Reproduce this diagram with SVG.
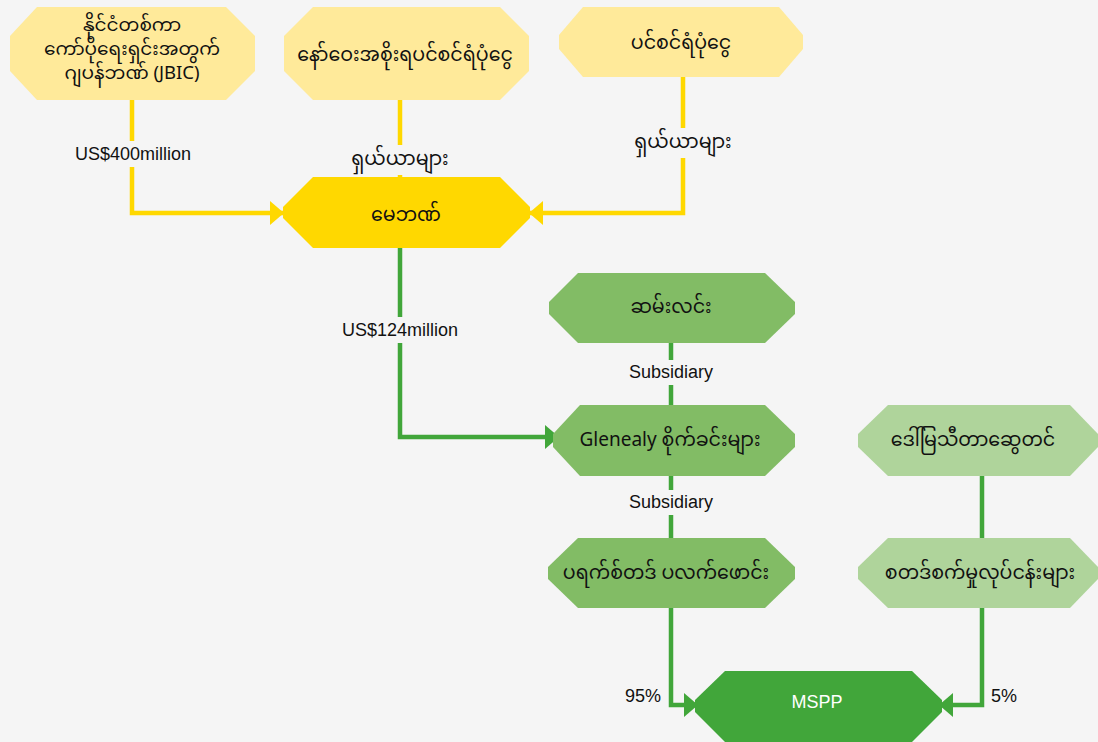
<svg xmlns="http://www.w3.org/2000/svg" width="1098" height="742" viewBox="0 0 1098 742">
<defs>
<style>
.lbl{font-family:"Liberation Sans",Arial,sans-serif;font-size:18px;fill:#111;text-anchor:middle;dominant-baseline:central}
.my{font-family:"Noto Sans Myanmar","Padauk","Myanmar Text","Noto Sans",sans-serif;font-size:19px;fill:#111;text-anchor:middle;dominant-baseline:central}
.ly{fill:#FFEA9A}
.gd{fill:#FFD800}
.mg{fill:#82BC65}
.lg{fill:#AFD49B}
.dg{fill:#41A63A}
.cy{fill:none;stroke:#FFD800;stroke-width:4.5}
.cg{fill:none;stroke:#41A63A;stroke-width:4.5}
</style>
<marker id="ay" viewBox="0 0 14 24" refX="13" refY="12" markerWidth="14" markerHeight="24" markerUnits="userSpaceOnUse" orient="auto"><path d="M0,0 L14,12 L0,24 Z" fill="#FFD800"/></marker>
<marker id="ag" viewBox="0 0 14 24" refX="13" refY="12" markerWidth="14" markerHeight="24" markerUnits="userSpaceOnUse" orient="auto"><path d="M0,0 L14,12 L0,24 Z" fill="#41A63A"/></marker>
</defs>
<rect width="1098" height="742" fill="#F5F5F5"/>
<g id="connectors">
<path class="cy" d="M132,100 V213 H283" marker-end="url(#ay)"/>
<path class="cy" d="M400,100 V177"/>
<path class="cy" d="M683,77 V213 H530" marker-end="url(#ay)"/>
<path class="cg" d="M400,248 V437 H558" marker-end="url(#ag)"/>
<path class="cg" d="M671,343 V405"/>
<path class="cg" d="M671,476 V538"/>
<path class="cg" d="M671,608 V705 H697" marker-end="url(#ag)"/>
<path class="cg" d="M982,476 V538"/>
<path class="cg" d="M982,608 V705 H940" marker-end="url(#ag)"/>
<rect x="72" y="141" width="122" height="26" fill="#F5F5F5"/>
<text class="lbl" x="133" y="154">US$400million</text>
<rect x="345" y="145" width="110" height="30" fill="#F5F5F5"/>
<text class="my" x="400" y="160">ရှယ်ယာများ</text>
<rect x="628" y="128" width="110" height="30" fill="#F5F5F5"/>
<text class="my" x="683" y="143">ရှယ်ယာများ</text>
<rect x="339" y="317" width="122" height="26" fill="#F5F5F5"/>
<text class="lbl" x="400" y="330">US$124million</text>
<rect x="626" y="360" width="90" height="25" fill="#F5F5F5"/>
<text class="lbl" x="671" y="372">Subsidiary</text>
<rect x="626" y="490" width="90" height="25" fill="#F5F5F5"/>
<text class="lbl" x="671" y="502">Subsidiary</text>
<text class="lbl" x="643" y="696">95%</text>
<text class="lbl" x="1004" y="696">5%</text>
</g>
<g id="jbic">
<path class="ly" d="M37,7 H226 L255,36 V71 L226,100 H37 L10,71 V36 Z"/>
<text class="my" x="132" y="27" style="font-size:18.5px">နိုင်ငံတစ်ကာ<tspan x="132" dy="24">ကော်ပိုရေးရှင်းအတွက်</tspan><tspan x="132" dy="24">ဂျပန်ဘဏ် (JBIC)</tspan></text>
</g>
<g id="norway">
<path class="ly" d="M313,7 H500 L529,36 V71 L500,100 H313 L284,71 V36 Z"/>
<text class="my" x="405" y="56">နော်ဝေးအစိုးရပင်စင်ရံပုံငွေ</text>
</g>
<g id="pension">
<path class="ly" d="M583,7 H779 L803,35 V49 L779,77 H583 L559,49 V35 Z"/>
<text class="my" x="681" y="44">ပင်စင်ရံပုံငွေ</text>
</g>
<g id="maybank">
<path class="gd" d="M313,177 H500 L530,207 V218 L500,248 H313 L283,218 V207 Z"/>
<text class="my" x="406" y="216">မေဘဏ်</text>
</g>
<g id="samling">
<path class="mg" d="M578,273 H765 L795,302 V314 L765,343 H578 L549,314 V302 Z"/>
<text class="my" x="671" y="308">ဆမ်းလင်း</text>
</g>
<g id="glenealy">
<path class="mg" d="M580,405 H765 L795,434 V447 L765,476 H580 L553,447 V434 Z"/>
<text class="my" x="670" y="441">Glenealy စိုက်ခင်းများ</text>
</g>
<g id="prestige">
<path class="mg" d="M578,538 H765 L795,567 V579 L765,608 H578 L548,579 V567 Z"/>
<text class="my" x="666" y="574">ပရက်စ်တဒ် ပလက်ဖောင်း</text>
</g>
<g id="dawmya">
<path class="lg" d="M888,405 H1070 L1098,434 V447 L1070,476 H888 L858,447 V434 Z"/>
<text class="my" x="973" y="441">ဒေါ်မြသီတာဆွေတင်</text>
</g>
<g id="stark">
<path class="lg" d="M888,538 H1070 L1098,567 V579 L1070,608 H888 L858,579 V567 Z"/>
<text class="my" x="980" y="574">စတဒ်စက်မှုလုပ်ငန်းများ</text>
</g>
<g id="mspp">
<path class="dg" d="M725,671 H912 L942,700 V712 L912,742 H725 L695,712 V700 Z"/>
<text class="lbl" x="817" y="702" style="fill:#fff">MSPP</text>
</g>
</svg>
